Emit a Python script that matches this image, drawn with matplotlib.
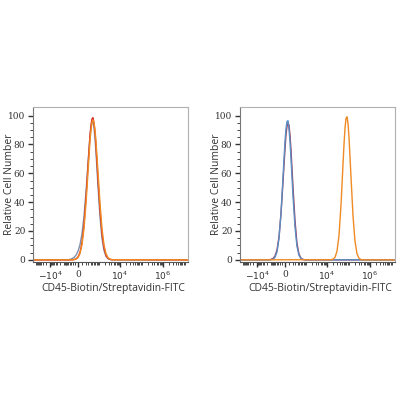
"""
Flow cytometry overlay histograms: CD45-Biotin/Streptavidin-FITC.
Two panels on a biexponential-style x axis.
"""

import numpy as np
import matplotlib
matplotlib.use("Agg")
import matplotlib.pyplot as plt

# ---- data (fluorescence value, % of max) ----
left_bins = [-150000, -749, -533, -369, -249, -153, -73, 0, 48, 98, 153, 215, 288,
             370, 421, 473, 533, 599, 670, 750, 935, 1164, 1447, 1797,
             2231, 2766, 3425, 4245, 14500000]
left_orange = [0, 0, 0, 0, 0, 0.1, 0.5, 1.5, 4.3, 10.4, 21.7, 39.2, 61.1,
               82.1, 90.1, 95.2, 97.0, 95.2, 90.1, 82.1, 61.1, 39.2, 21.7, 10.4,
               4.3, 1.5, 0.5, 0.1, 0]
left_red = [0, 0, 0, 0, 0, 0.2, 0.7, 2.0, 5.2, 12.0, 24.5, 43.0, 65.5,
            86.0, 93.5, 97.8, 98.6, 95.0, 88.5, 78.5, 56.0, 34.5, 18.0, 8.2,
            3.1, 1.0, 0.3, 0.1, 0]
left_gray = [0, 0, 0.1, 0.3, 0.8, 1.6, 3.2, 6.0, 10.5, 18.0, 30.0, 47.0, 67.0,
             85.5, 92.5, 96.0, 95.5, 91.5, 84.5, 74.5, 51.0, 30.0, 15.0, 6.5,
             2.4, 0.8, 0.2, 0, 0]

right_bins_neg = [-150000, -1445, -1043, -749, -533, -369, -249, -153, -73, 0, 24,
                  48, 73, 98, 125, 153, 215, 288, 370, 473, 599, 750, 935,
                  1164, 14500000]
right_blue = [0, 0, 0.1, 0.4, 1.7, 5.6, 14.9, 32.4, 57.2, 82.1, 91.0,
              95.9, 96.5, 91.0, 82.1, 70.3, 44.2, 22.6, 9.4, 3.2, 0.9, 0.2, 0,
              0, 0]
right_purple = [0, 0.1, 0.3, 0.9, 2.6, 7.0, 16.0, 32.0, 54.0, 77.0, 87.0,
                92.5, 94.8, 93.5, 86.5, 76.0, 50.5, 27.0, 11.5, 4.0, 1.1, 0.3, 0,
                0, 0]

right_bins_pos = [-150000, 15354, 19014, 23555, 29170, 36160, 44790, 55490, 61770,
                  68750, 76540, 85170, 94810, 105520, 130730, 162070, 200760,
                  248710, 308070, 381660, 472760, 14500000]
right_orange = [0, 0.1, 0.4, 1.7, 6.0, 17.0, 37.8, 66.2, 80.1,
                91.3, 98.1, 99.2, 94.6, 85.0, 57.4, 30.5, 12.8,
                4.2, 1.1, 0.2, 0, 0]

x_label = "CD45-Biotin/Streptavidin-FITC"
y_label = "Relative Cell Number"
x_tick_values = [-1e4, 0, 1e4, 1e6]
x_tick_labels = [r"$-10^4$", "0", r"$10^4$", r"$10^6$"]
y_tick_values = [0, 20, 40, 60, 80, 100]

# ---- biexponential-like display transform ----
W = 223.0
POS_K = 9.34
NEG_K = 6.23


def forward(x):
    x = np.asarray(x, dtype=float)
    return np.where(x >= 0, POS_K * np.arcsinh(x / W), NEG_K * np.arcsinh(x / W))


def inverse(u):
    u = np.asarray(u, dtype=float)
    return np.where(u >= 0, W * np.sinh(u / POS_K), W * np.sinh(u / NEG_K))


X_MIN = float(inverse(-45))
X_MAX = float(inverse(110))


def minor_positions():
    ticks = []
    for exp in range(2, 7):
        for m in range(2, 10):
            ticks.append(m * 10 ** exp)
    for exp in range(2, 5):
        for m in range(2, 10):
            ticks.append(-m * 10 ** exp)
    ticks += [100, 1000, 1e5, -100, -1000, 1e7]
    return [t for t in ticks if X_MIN < t < X_MAX]


def style_axis(ax):
    ax.set_xscale("function", functions=(forward, inverse))

    ax.set_xticks(x_tick_values)
    ax.set_xticklabels(x_tick_labels)
    ax.set_xticks(minor_positions(), minor=True)
    ax.set_yticks(y_tick_values)
    ax.set_yticks(np.arange(0, 101, 5), minor=True)

    # limits after the ticks, so the tick lists cannot widen the view
    ax.set_xlim(X_MIN, X_MAX)
    ax.set_ylim(-1.5, 106)

    for spine in ax.spines.values():
        spine.set_color("#b0b0b0")
        spine.set_linewidth(0.8)
    ax.spines["bottom"].set_color("#555555")
    ax.spines["left"].set_color("#777777")

    ax.tick_params(axis="both", which="major", length=3.5, width=1.0,
                   color="#333333", labelsize=6.5, labelcolor="#333333", pad=2)
    ax.tick_params(axis="both", which="minor", length=2, width=0.7,
                   color="#444444")
    for label in ax.get_xticklabels() + ax.get_yticklabels():
        label.set_fontfamily("DejaVu Serif")

    ax.set_xlabel(x_label, fontsize=7.5, family="Open Sans", color="#333333")
    ax.set_ylabel(y_label, fontsize=7.5, family="Open Sans", color="#333333")
    ax.xaxis.set_label_coords(0.52, -0.135)
    ax.yaxis.set_label_coords(-0.115, 0.5)


fig = plt.figure(figsize=(4, 4), dpi=100)
ax_left = fig.add_axes([0.0825, 0.345, 0.3875, 0.3875])
ax_right = fig.add_axes([0.60, 0.345, 0.3875, 0.3875])

ax_left.plot(left_bins, left_gray, color="#7f8fa6", lw=1.0)
ax_left.plot(left_bins, left_red, color="#d9362b", lw=1.0)
ax_left.plot(left_bins, left_orange, color="#f08a24", lw=1.0)

ax_right.plot(right_bins_neg, right_purple, color="#a03a5c", lw=1.0)
ax_right.plot(right_bins_neg, right_blue, color="#5b8fc4", lw=1.0)
ax_right.plot(right_bins_pos, right_orange, color="#f08a24", lw=1.0)

style_axis(ax_left)
style_axis(ax_right)

fig.savefig("out.png", dpi=100)
